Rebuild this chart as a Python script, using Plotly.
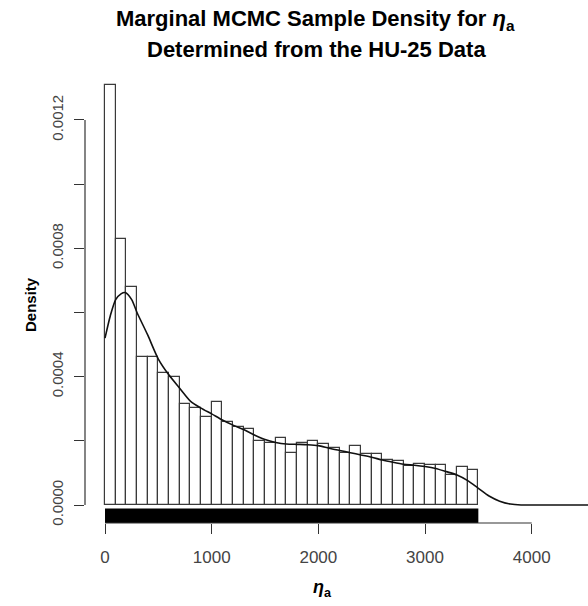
import plotly.graph_objects as go

# Histogram of MCMC samples for eta_a: bins of width 100 starting at 0
bin_width = 100
bin_left = list(range(0, 3500, bin_width))
bar_density = [
    0.00131, 0.000828, 0.000680, 0.000460, 0.000460, 0.000410, 0.000400,
    0.000314, 0.000302, 0.000275, 0.000320, 0.000258, 0.000244, 0.000238,
    0.000199, 0.000194, 0.000208, 0.000162, 0.000193, 0.000199, 0.000190,
    0.000177, 0.000162, 0.000183, 0.000159, 0.000159, 0.000141, 0.000138,
    0.000121, 0.000128, 0.000125, 0.000125, 0.0000935, 0.000120, 0.000108,
]

# Kernel density estimate of the same samples
kde_x = [0, 50, 100, 150, 190, 250, 300, 400, 500, 600, 700, 800, 900, 1000,
         1100, 1200, 1300, 1400, 1500, 1600, 1700, 1800, 1900, 2000, 2100,
         2200, 2300, 2400, 2500, 2600, 2700, 2800, 2900, 3000, 3100, 3200,
         3300, 3400, 3500, 3600, 3700, 3800, 3900, 4000, 4600]
kde_y = [0.00052, 0.00059, 0.00064, 0.000658, 0.000662, 0.00064, 0.0006,
         0.00053, 0.000455, 0.000405, 0.000364, 0.000324, 0.000302, 0.000284,
         0.000265, 0.000249, 0.000235, 0.000218, 0.000204, 0.000195, 0.00019,
         0.000189, 0.000188, 0.000185, 0.000177, 0.00017, 0.000163, 0.000156,
         0.000149, 0.00014, 0.000133, 0.000127, 0.000124, 0.00012, 0.000114,
         0.000104, 0.0000935, 0.000076, 0.000052, 0.000028, 0.000012,
         0.000003, 0.0, 0.0, 0.0]

# Extent of the sample rug (min / max sample)
rug_span = [0, 3500]

x_ticks = [0, 1000, 2000, 3000, 4000]
y_ticks = [0.0, 0.0002, 0.0004, 0.0006, 0.0008, 0.0010, 0.0012]
y_tick_text = ["0.0000", "", "0.0004", "", "0.0008", "", "0.0012"]

x_range = [-187.5, 4528]
y_range = [-0.0000561, 0.001362]
rug_top = y_range[0] + 0.032 * (y_range[1] - y_range[0])

FONT = "Liberation Sans, Arial, Helvetica, sans-serif"
AXIS_GREY = "#444444"

fig = go.Figure()

fig.add_trace(go.Bar(
    x=[b + bin_width / 2 for b in bin_left],
    y=bar_density,
    width=bin_width,
    marker=dict(color="white", line=dict(color="#3a3a3a", width=1.2)),
    showlegend=False,
))

fig.add_trace(go.Scatter(
    x=[rug_span[0], rug_span[1], rug_span[1], rug_span[0], rug_span[0]],
    y=[y_range[0], y_range[0], rug_top, rug_top, y_range[0]],
    fill="toself", fillcolor="black", mode="lines",
    line=dict(color="black", width=0), showlegend=False,
))

fig.add_trace(go.Scatter(
    x=kde_x, y=kde_y, mode="lines",
    line=dict(color="#111111", width=1.6, shape="spline", smoothing=0.7),
    showlegend=False,
))

# R-style axis lines that span only the tick range
fig.add_shape(type="line", xref="x", yref="paper", x0=x_ticks[0], x1=x_ticks[-1],
              y0=0, y1=0, line=dict(color="#333333", width=1.2))
fig.add_shape(type="line", xref="paper", yref="y", x0=0, x1=0,
              y0=y_ticks[0], y1=y_ticks[-1], line=dict(color="#333333", width=1.2))

fig.update_layout(
    width=588, height=606,
    margin=dict(l=85, r=0, t=68, b=83),
    plot_bgcolor="white", paper_bgcolor="white",
    bargap=0,
    font=dict(family=FONT, color="#222222"),
    xaxis=dict(
        range=x_range, showgrid=False, zeroline=False, showline=False,
        tickmode="array", tickvals=x_ticks, ticks="outside", ticklen=10,
        tickcolor="#333333", tickwidth=1.2, ticklabelstandoff=9,
        tickfont=dict(size=17, color=AXIS_GREY),
    ),
    yaxis=dict(
        range=y_range, showgrid=False, zeroline=False, showline=False,
        tickmode="array", tickvals=y_ticks, ticktext=y_tick_text,
        ticks="outside", ticklen=10, tickcolor="#333333", tickwidth=1.2,
        ticklabelstandoff=5,
        tickangle=-90, tickfont=dict(size=15, color=AXIS_GREY),
    ),
    annotations=[
        dict(text="<b>Marginal MCMC Sample Density for <i>η</i><sub>a</sub></b>",
             xref="paper", yref="paper", x=(315 - 85) / 503, y=1 + (68 - 20) / 455,
             showarrow=False, font=dict(size=22, color="black", family=FONT),
             xanchor="center", yanchor="middle"),
        dict(text="<b>Determined from the HU-25 Data</b>",
             xref="paper", yref="paper", x=(316 - 85) / 503, y=1 + (68 - 50) / 455,
             showarrow=False, font=dict(size=22, color="black", family=FONT),
             xanchor="center", yanchor="middle"),
        dict(text="<b>Density</b>", textangle=-90,
             xref="paper", yref="paper", x=(30 - 85) / 503, y=(523 - 305) / 455,
             showarrow=False, font=dict(size=15, color="black", family=FONT),
             xanchor="center", yanchor="middle"),
        dict(text="<b><i>η</i><sub>a</sub></b>",
             xref="paper", yref="paper", x=(322 - 85) / 503, y=-(588 - 523) / 455,
             showarrow=False, font=dict(size=18, color="black", family=FONT),
             xanchor="center", yanchor="middle"),
    ],
)

fig.write_html("out.html")
